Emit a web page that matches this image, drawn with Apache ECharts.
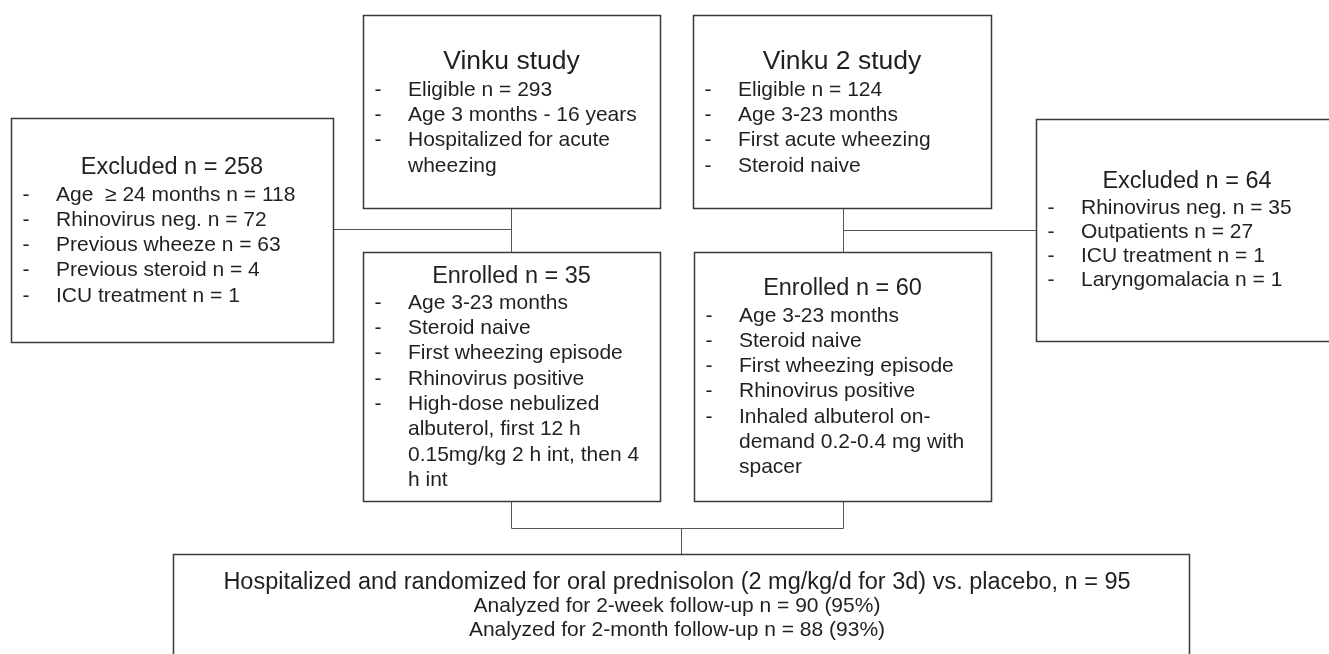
<!DOCTYPE html>
<html>
<head>
<meta charset="utf-8">
<title>Vinku flow chart</title>
<script src="https://cdn.jsdelivr.net/npm/echarts@6/dist/echarts.min.js"></script>
<style>
  html, body { margin: 0; padding: 0; background: #fff; }
  #chart { width: 1329px; height: 654px; }
</style>
</head>
<body>
<div id="chart"></div>
<script>
// box texts
const boxTitles = [
    'Excluded n = 258',
    'Vinku study',
    'Vinku 2 study',
    'Excluded n = 64',
    'Enrolled n = 35',
    'Enrolled n = 60'
];
// every item is one bullet, split in the lines it wraps to
const boxItems = [
    [['Age  \u2265 24 months n = 118'], ['Rhinovirus neg. n = 72'], ['Previous wheeze n = 63'],
     ['Previous steroid n = 4'], ['ICU treatment n = 1']],
    [['Eligible n = 293'], ['Age 3 months - 16 years'], ['Hospitalized for acute', 'wheezing']],
    [['Eligible n = 124'], ['Age 3-23 months'], ['First acute wheezing'], ['Steroid naive']],
    [['Rhinovirus neg. n = 35'], ['Outpatients n = 27'], ['ICU treatment n = 1'], ['Laryngomalacia n = 1']],
    [['Age 3-23 months'], ['Steroid naive'], ['First wheezing episode'], ['Rhinovirus positive'],
     ['High-dose nebulized', 'albuterol, first 12 h', '0.15mg/kg 2 h int, then 4', 'h int']],
    [['Age 3-23 months'], ['Steroid naive'], ['First wheezing episode'], ['Rhinovirus positive'],
     ['Inhaled albuterol on-', 'demand 0.2-0.4 mg with', 'spacer']]
];
const footLines = [
    'Hospitalized and randomized for oral prednisolon (2 mg/kg/d for 3d) vs. placebo, n = 95',
    'Analyzed for 2-week follow-up n = 90 (95%)',
    'Analyzed for 2-month follow-up n = 88 (93%)'
];

// layout (pixels)
const boxLayout = [
    {x: 11,   y: 118, w: 322, h: 224, titleY: 168, itemY: 195, gap: 25.2, titleSize: 23.5},
    {x: 363,  y: 15,  w: 297, h: 193, titleY: 62,  itemY: 90,  gap: 25.3, titleSize: 26.5},
    {x: 693,  y: 15,  w: 298, h: 193, titleY: 62,  itemY: 90,  gap: 25.3, titleSize: 26.5},
    {x: 1036, y: 119, w: 302, h: 222, titleY: 182, itemY: 208, gap: 24,   titleSize: 23.5},
    {x: 363,  y: 252, w: 297, h: 249, titleY: 277, itemY: 303, gap: 25.3, titleSize: 23.5},
    {x: 694,  y: 252, w: 297, h: 249, titleY: 289, itemY: 316, gap: 25.2, titleSize: 23.5}
];
const footBox = {x: 173, y: 554, w: 1016, h: 130, cx: 677, lineY: 583, gap: 23.5, sizes: [23.5, 21, 21]};
const links = [
    [[333, 229], [511, 229]],
    [[511, 208], [511, 252]],
    [[843, 208], [843, 252]],
    [[843, 230], [1036, 230]],
    [[511, 501], [511, 528], [843, 528], [843, 501]],
    [[681, 528], [681, 554]]
];

const FONT = '"Liberation Sans", Arial, sans-serif';
const TEXT = '#231f20';

function txt(s, x, y, size, align) {
    return {
        type: 'text',
        x: x, y: y,
        style: {
            text: s, fill: TEXT,
            font: size + 'px ' + FONT,
            align: align, verticalAlign: 'middle'
        }
    };
}

const elements = [];
links.forEach(function (pts) {
    elements.push({
        type: 'polyline',
        shape: {points: pts.map(function (p) { return [p[0] + 0.5, p[1] + 0.5]; })},
        style: {stroke: '#555', lineWidth: 1, fill: null}
    });
});

boxLayout.forEach(function (b, i) {
    elements.push({
        type: 'rect',
        shape: {x: b.x + 0.5, y: b.y + 0.5, width: b.w, height: b.h},
        style: {fill: '#fff', stroke: '#3a3a3a', lineWidth: 1.5}
    });
    elements.push(txt(boxTitles[i], b.x + b.w / 2, b.titleY, b.titleSize, 'center'));
    let row = 0;
    boxItems[i].forEach(function (item) {
        item.forEach(function (line, k) {
            const y = b.itemY + row * b.gap;
            if (k === 0) elements.push(txt('-', b.x + 15, y, 21, 'center'));
            elements.push(txt(line, b.x + 45, y, 21, 'left'));
            row++;
        });
    });
});

elements.push({
    type: 'rect',
    shape: {x: footBox.x + 0.5, y: footBox.y + 0.5, width: footBox.w, height: footBox.h},
    style: {fill: '#fff', stroke: '#3a3a3a', lineWidth: 1.5}
});
footLines.forEach(function (line, i) {
    elements.push(txt(line, footBox.cx, footBox.lineY + i * footBox.gap, footBox.sizes[i], 'center'));
});

const myChart = echarts.init(document.getElementById('chart'));
myChart.setOption({
    animation: false,
    graphic: {elements: elements}
});
</script>
</body>
</html>
